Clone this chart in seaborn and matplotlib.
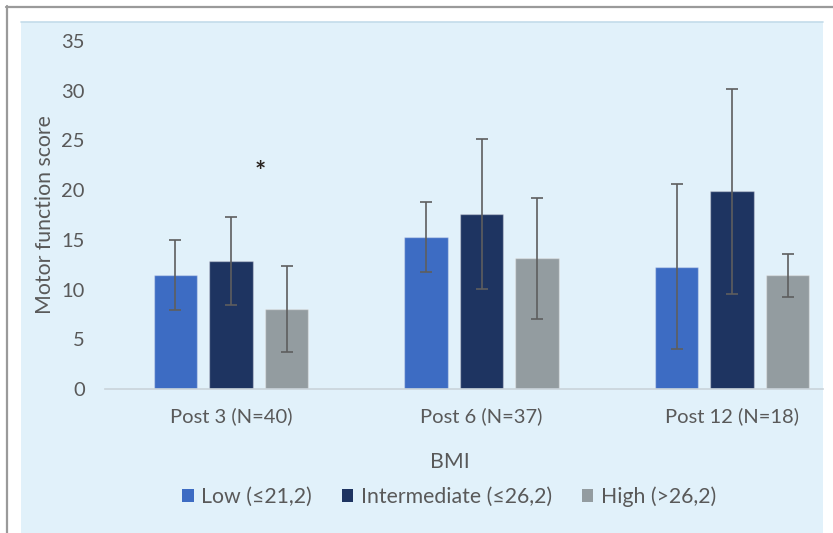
import matplotlib
matplotlib.use("Agg")
import matplotlib.pyplot as plt
import matplotlib.patches as mpatches
import matplotlib.lines as mlines
import pandas as pd
import seaborn as sns

# Motor function score by time point and BMI group (mean ± SD)
timepoints = ["Post 3 (N=40)", "Post 6 (N=37)", "Post 12 (N=18)"]
groups = ["Low (≤21,2)", "Intermediate (≤26,2)", "High (>26,2)"]
low_mean = [11.45, 15.3, 12.3]
low_sd = [3.55, 3.5, 8.3]
mid_mean = [12.85, 17.6, 19.9]
mid_sd = [4.43, 7.5, 10.3]
high_mean = [8.05, 13.15, 11.45]
high_sd = [4.33, 6.1, 2.15]
colors = ["#3D6CC3", "#1E3461", "#939CA0"]

W, H = 833, 533
sns.set_theme(style="white")
plt.rcParams["font.family"] = ["Lato", "DejaVu Sans"]
text_color = "#595959"
fs_tick = 14.5
fs_text = 15.3

fig = plt.figure(figsize=(W / 100, H / 100), dpi=100)
fig.patch.set_facecolor("white")

# outer frame lines and light-blue chart panel
fig.add_artist(mlines.Line2D([6 / W, 1], [1 - 6.5 / H] * 2, color="#9A9A9A", lw=1.6,
                             transform=fig.transFigure))
fig.add_artist(mlines.Line2D([6.5 / W] * 2, [0, 1 - 6 / H], color="#9A9A9A", lw=1.6,
                             transform=fig.transFigure))
fig.add_artist(mpatches.Rectangle((21 / W, 0), (823 - 21) / W, 1 - 22 / H,
                                  transform=fig.transFigure, facecolor="#E1F1FA",
                                  edgecolor="none", zorder=0))
fig.add_artist(mlines.Line2D([21 / W, 823 / W], [1 - 22 / H] * 2, color="#C3DCEA", lw=1.2,
                             transform=fig.transFigure))

ax = fig.add_axes([105 / W, 1 - 389 / H, (823 - 105) / W, (389 - 41) / H])
ax.set_facecolor("none")

df = pd.DataFrame({
    "time": timepoints * 3,
    "group": [groups[0]] * 3 + [groups[1]] * 3 + [groups[2]] * 3,
    "score": low_mean + mid_mean + high_mean,
})

sns.barplot(data=df, x="time", y="score", hue="group", hue_order=groups,
            order=timepoints, palette=colors, width=0.665, gap=0.22,
            errorbar=None, saturation=1, ax=ax,
            edgecolor=(1, 1, 1, 0.35), linewidth=1)

sds = [low_sd, mid_sd, high_sd]
for container, sd in zip(ax.containers, sds):
    xs = [p.get_x() + p.get_width() / 2 for p in container.patches]
    hs = [p.get_height() for p in container.patches]
    ax.errorbar(xs, hs, yerr=sd, fmt="none", ecolor="#5E5E5E", elinewidth=1.2,
                capsize=4, capthick=1.2, zorder=5)

ax.text(0.116, 21.8, "*", ha="center", va="center", fontsize=19, fontweight="bold",
        color="#2A2420")

ax.set_ylim(0, 35)
ax.set_xlim(-0.503, 2.363)
ax.set_yticks(range(0, 36, 5))
ax.tick_params(axis="both", length=0, labelsize=fs_tick, labelcolor=text_color)
ax.tick_params(axis="x", pad=13)
ax.tick_params(axis="y", pad=14.5)
for s in ["top", "right", "left"]:
    ax.spines[s].set_visible(False)
ax.spines["bottom"].set_color("#C9D3DA")
ax.spines["bottom"].set_linewidth(1.2)
ax.set_xlabel("")
ax.set_ylabel("Motor function score", fontsize=fs_text, color=text_color)
ax.yaxis.set_label_coords(-(105 - 45) / (823 - 105), 0.5)
ax.yaxis.label.set_va("center")

fig.text(450 / W, 1 - 462 / H, "BMI", ha="center", va="center", fontsize=fs_text,
         color=text_color)

handles = [mpatches.Patch(facecolor=c, edgecolor="none") for c in colors]
ax.get_legend().remove()
fig.legend(handles, groups, loc="center", bbox_to_anchor=(449 / W, 1 - 497 / H),
           ncol=3, frameon=False, fontsize=fs_text, labelcolor=text_color,
           handlelength=0.55, handleheight=0.55, handletextpad=0.35,
           columnspacing=1.4)

fig.savefig("out.png", dpi=100, facecolor="white")
